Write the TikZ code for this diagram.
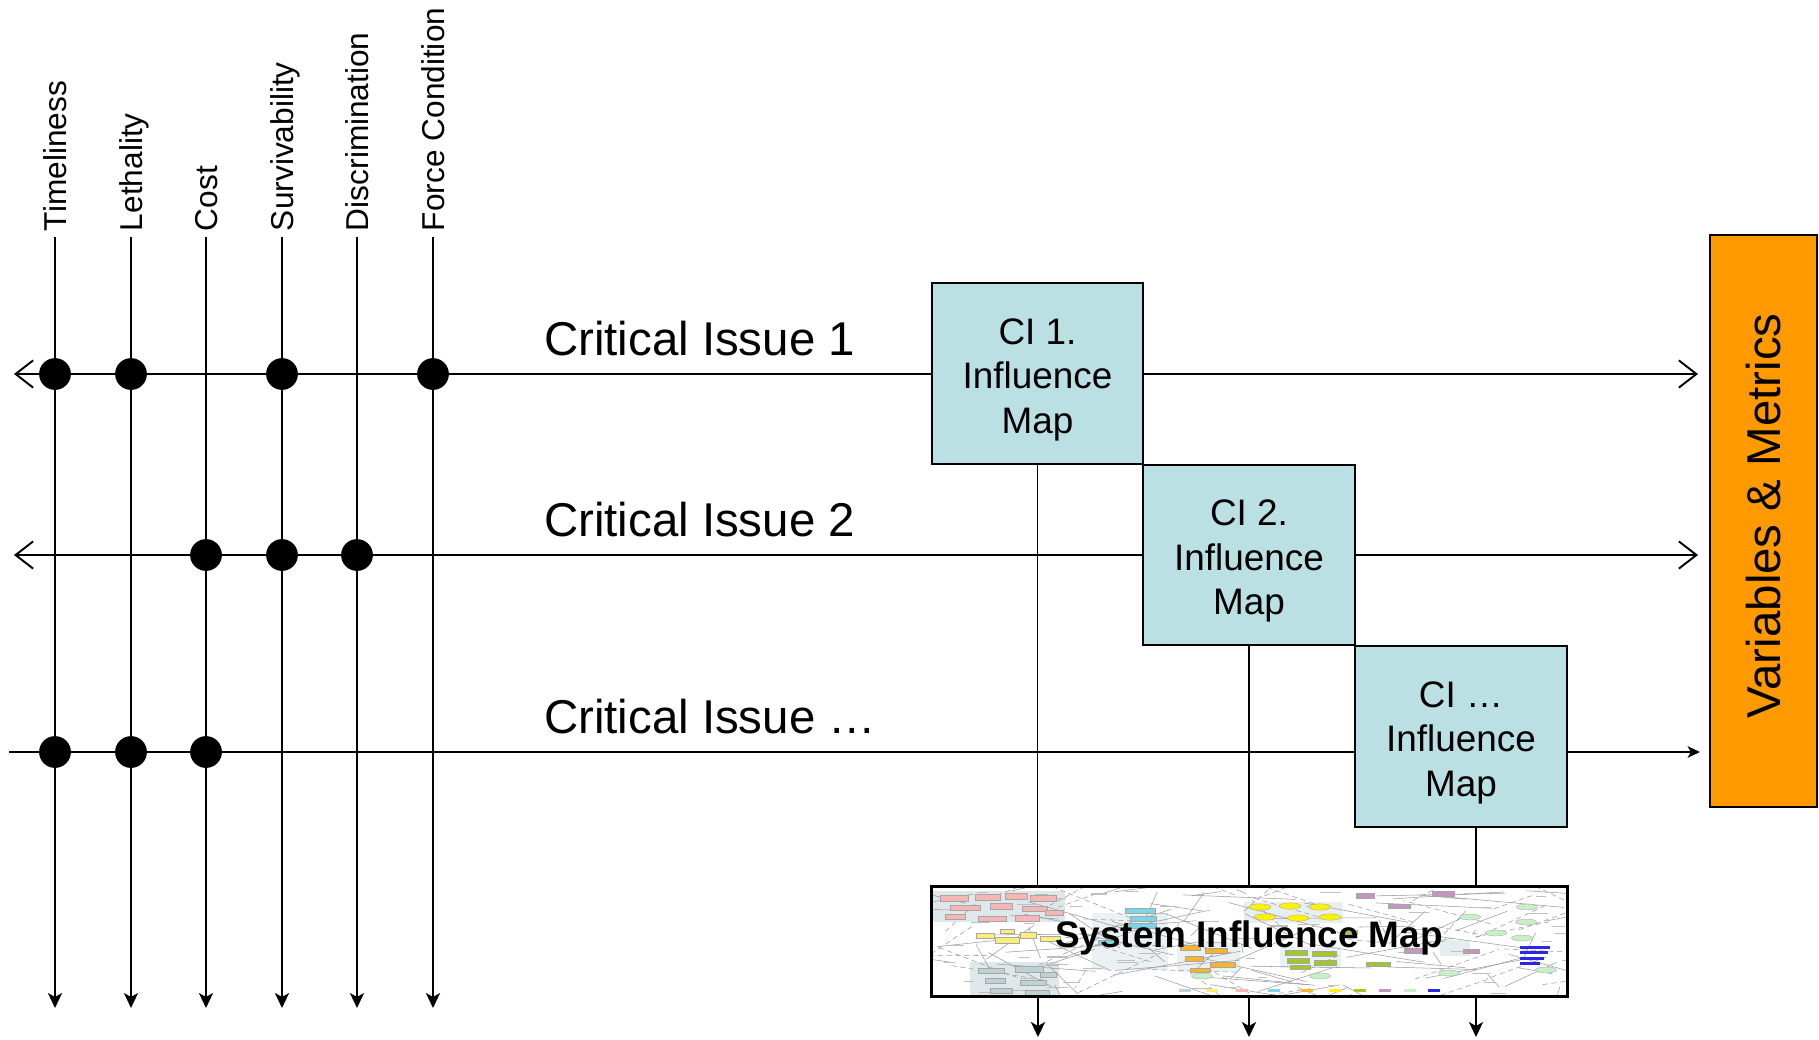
\documentclass[tikz,border=0pt]{standalone}
\usepackage{fontspec}
\setmainfont{Liberation Sans}
\usetikzlibrary{arrows.meta}

\definecolor{cifill}{RGB}{186,224,228}
\definecolor{vmorange}{RGB}{255,153,0}
\definecolor{chippink}{RGB}{246,182,182}
\definecolor{chipyellow}{RGB}{250,240,120}
\definecolor{chipcyan}{RGB}{120,214,232}
\definecolor{chiporange}{RGB}{250,180,40}
\definecolor{chipolive}{RGB}{160,200,40}
\definecolor{chippurple}{RGB}{196,150,190}
\definecolor{chipgreen}{RGB}{200,240,200}
\definecolor{chipblue}{RGB}{40,40,230}
\definecolor{chipslate}{RGB}{190,210,212}
\definecolor{panelgrey}{RGB}{222,232,235}

\begin{document}
\begin{tikzpicture}[x=0.02cm,y=-0.02cm,
  every node/.style={inner sep=0pt,outer sep=0pt},
  axis/.style={line width=1.1pt},
  barbs/.style={>={Straight Barb[length=10pt,width=15.5pt]},<->},
  downtip/.style={-{Stealth[length=8.5pt,width=8pt,inset=2.2pt]}},
  righttip/.style={-{Stealth[length=7pt,width=6.5pt,inset=1.8pt]}},
  attr/.style={rotate=90,anchor=west,font=\fontsize{18}{20}\selectfont,
    text height=12.9pt,text depth=0pt},
  issue/.style={anchor=base west,font=\fontsize{27}{30}\selectfont},
  dot/.style={circle,fill=black,minimum size=18.1pt},
  cibox/.style={draw,fill=cifill,line width=1.1pt,minimum width=120.2pt,
    minimum height=102.6pt},
  citext/.style={align=center,font=\fontsize{21}{25.3}\selectfont},
  vmbox/.style={draw,fill=vmorange,line width=1.4pt,minimum width=60.7pt,
    minimum height=325.4pt},
  vmlabel/.style={rotate=90,font=\fontsize{27}{30}\selectfont},
  simbox/.style={fill=white,minimum width=362.3pt,minimum height=62.9pt},
  simlabel/.style={font=\bfseries\fontsize{21}{24}\selectfont},
  doodle/.style={draw=black!40,line width=0.3pt},
  chip/.style={draw=black!35,line width=0.2pt},
]
\useasboundingbox (0,0) rectangle (1819,1039);

% attribute columns with their labels and downward arrows
\foreach \n/\x/\t in {tim/55/Timeliness,let/131/Lethality,cost/206/Cost,
    surv/282/Survivability,disc/357/Discrimination,force/433/Force Condition}{
  \node[attr] (\n-lab) at (\x,231) {\t};
  \coordinate (\n-top) at (\x,237);
  \coordinate (\n-end) at (\x,1008);
  \draw[axis,downtip] (\n-top) -- (\n-end);
}

% critical issue rows
\coordinate (r1-l) at (14,374);  \coordinate (r1-r) at (1698,374);
\coordinate (r2-l) at (14,555);  \coordinate (r2-r) at (1698,555);
\coordinate (r3-l) at (9,752);   \coordinate (r3-r) at (1700,752);
\draw[axis,barbs] (r1-l) -- (r1-r);
\draw[axis,barbs] (r2-l) -- (r2-r);
\draw[axis,righttip] (r3-l) -- (r3-r);

\node[issue] (iss1) at (544,355) {Critical Issue 1};
\node[issue] (iss2) at (544,536) {Critical Issue 2};
\node[issue] (iss3) at (544,733) {Critical Issue …};

% junctions between attributes and issues
\foreach \c/\r in {tim/1,let/1,surv/1,force/1,cost/2,surv/2,disc/2,tim/3,let/3,cost/3}
  \node[dot] (dot-\c-\r) at (\c-top |- r\r-l) {};

% system influence map box
\node[simbox] (sim) at (1249.5,941.5) {};
\coordinate (ci3-foot) at (1476,827);

% outlets below the system map
\coordinate (out1) at (1038,1037);
\coordinate (out2) at (1249,1037);
\coordinate (out3) at (1476,1037);

% per-issue influence maps
\node[cibox] (ci1) at (1037.5,373.5) {};
\node[cibox] (ci2) at (1249,555) {};
\node[cibox] (ci3) at (1461,736.5) {};
\node[citext] (ci1-txt) at ([yshift=-3.5pt]ci1.center) {CI 1.\\Influence\\Map};
\node[citext] (ci2-txt) at ([yshift=-3.5pt]ci2.center) {CI 2.\\Influence\\Map};
\node[citext] (ci3-txt) at ([yshift=-3.5pt]ci3.center) {CI …\\Influence\\Map};

\draw[axis] (ci1.south) -- (ci1.south |- sim.north);
\draw[axis] (ci2.south) -- (ci2.south |- sim.north);
\draw[axis] (ci3-foot) -- (ci3-foot |- sim.north);
\draw[axis,downtip] (out1 |- sim.south) -- (out1);
\draw[axis,downtip] (out2 |- sim.south) -- (out2);
\draw[axis,downtip] (out3 |- sim.south) -- (out3);

% miniature network inside the system map
\begin{scope}
  \clip (sim.south west) rectangle (sim.north east);
  \fill[panelgrey] (932,891) rectangle (1065,922);
  \fill[panelgrey] (970,962) rectangle (1059,995);
  \fill[panelgrey!60] (1092,913) rectangle (1168,970);
  \fill[panelgrey!70] (1244,902) rectangle (1343,923);
  \fill[panelgrey!60] (1177,942) rectangle (1240,972);
  \fill[panelgrey!60] (1280,947) rectangle (1341,968);
  \fill[panelgrey!80] (1440,940) rectangle (1470,956);
  \pgfmathsetseed{4242}
  \foreach \k in {1,...,90}{
    \pgfmathsetmacro\xa{935+630*rnd}
    \pgfmathsetmacro\ya{889+106*rnd}
    \pgfmathsetmacro\xb{\xa+(rnd-0.5)*260}
    \pgfmathsetmacro\yb{\ya+(rnd-0.5)*70}
    \draw[doodle] (\xa,\ya) -- (\xb,\yb);
  }
  \foreach \k in {1,...,45}{
    \pgfmathsetmacro\xa{935+630*rnd}
    \pgfmathsetmacro\ya{889+106*rnd}
    \pgfmathsetmacro\xb{\xa+(rnd-0.5)*200}
    \pgfmathsetmacro\yb{\ya+(rnd-0.5)*80}
    \draw[doodle,densely dashed] (\xa,\ya) -- (\xb,\yb);
  }
  \foreach \k in {1,...,60}{
    \pgfmathsetmacro\xa{935+630*rnd}
    \pgfmathsetmacro\ya{889+106*rnd}
    \draw[black!25,line width=0.6pt] (\xa,\ya) -- ++(8+14*rnd,0);
  }
  \foreach \x/\y/\w/\h in {940/895/28/6,975/894/25/6,1005/893/22/6,1030/895/26/6,
      950/905/30/5,990/903/22/6,1022/906/25/5,945/914/20/5,978/916/28/5,
      1015/915/24/6,1045/910/18/5}
    \filldraw[chip,fill=chippink] (\x,\y) rectangle ++(\w,\h);
  \foreach \x/\y/\w/\h in {976/933/18/5,995/937/24/6,1020/932/16/6,1040/936/20/5,1000/929/14/4}
    \filldraw[chip,fill=chipyellow] (\x,\y) rectangle ++(\w,\h);
  \foreach \x/\y/\w/\h in {978/968/26/5,1015/966/28/6,985/978/20/5,1020/980/26/5,
      1040/972/16/5,990/988/22/5,1025/990/24/5}
    \filldraw[chip,fill=chipslate] (\x,\y) rectangle ++(\w,\h);
  \foreach \x/\y/\w/\h in {1125/908/30/5,1130/916/26/5,1128/923/28/5,1098/940/20/4}
    \filldraw[chip,fill=chipcyan] (\x,\y) rectangle ++(\w,\h);
  \foreach \x/\y in {1260/907,1290/906,1320/907,1265/917,1298/918,1330/917}
    \filldraw[chip,fill=yellow] (\x,\y) ellipse[x radius=6.2pt,y radius=1.8pt];
  \foreach \x/\y/\w/\h in {1180/945/20/5,1205/948/22/5,1185/956/18/5,1210/962/25/5,1190/968/20/4}
    \filldraw[chip,fill=chiporange] (\x,\y) rectangle ++(\w,\h);
  \foreach \x/\y/\w/\h in {1285/950/22/5,1312/951/24/5,1287/958/22/5,1314/960/22/5,
      1290/965/20/4,1343/930/14/4,1366/962/24/4}
    \filldraw[chip,fill=chipolive] (\x,\y) rectangle ++(\w,\h);
  \foreach \x/\y/\w/\h in {1356/893/18/5,1388/904/22/4,1432/891/22/5,1404/948/22/5,1463/949/16/4}
    \filldraw[chip,fill=chippurple] (\x,\y) rectangle ++(\w,\h);
  \foreach \x/\y in {1496/933,1522/938,1526/922,1527/907,1202/976,1320/976,1449/973,1546/970,1470/917}
    \filldraw[chip,fill=chipgreen] (\x,\y) ellipse[x radius=6pt,y radius=1.7pt];
  \foreach \y/\w in {946/30,951/28,957/24,962/20}
    \fill[chipblue] (1520,\y) rectangle ++(\w,2.5);
  \foreach \x/\c in {1179/chipslate,1206/chipyellow,1236/chippink,1268/chipcyan,
      1301/chiporange,1329/yellow,1354/chipolive,1379/chippurple,1404/chipgreen,1428/chipblue}
    \fill[\c] (\x,989) rectangle ++(12,3);
\end{scope}
\draw[line width=1.7pt] (sim.south west) rectangle (sim.north east);
\node[simlabel] (sim-lab) at (1249,938) {System Influence Map};

% variables and metrics bar
\node[vmbox] (vm) at (1763.5,521) {};
\node[vmlabel] (vm-lab) at (1764,516) {Variables \& Metrics};
\end{tikzpicture}
\end{document}
